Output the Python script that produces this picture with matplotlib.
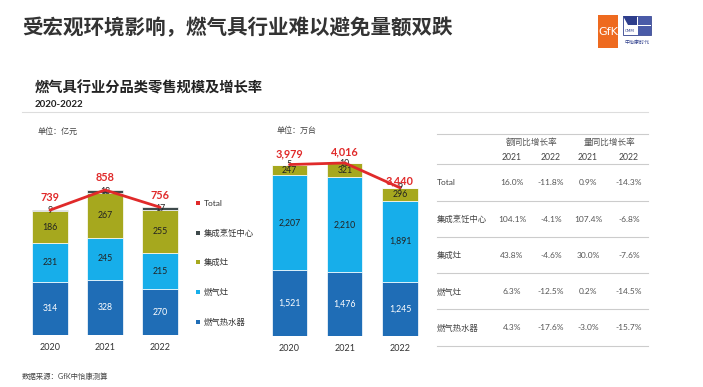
import matplotlib
matplotlib.use("Agg")
import matplotlib.pyplot as plt
from matplotlib.patches import Rectangle, Polygon

plt.rcParams['font.family'] = ['Lato', 'Noto Sans CJK SC', 'DejaVu Sans']

# ---------------- data ----------------
years = ['2020', '2021', '2022']
series_names = ['燃气热水器', '燃气灶', '集成灶', '集成烹饪中心']
legend_names = ['Total', '集成烹饪中心', '集成灶', '燃气灶', '燃气热水器']

value_heater = [314, 328, 270]      # 亿元
value_stove = [231, 245, 215]
value_integrated = [186, 267, 255]
value_center = [9, 18, 17]
value_total = [739, 858, 756]

volume_heater = [1521, 1476, 1245]  # 万台
volume_stove = [2207, 2210, 1891]
volume_integrated = [247, 321, 296]
volume_center = [5, 10, 9]
volume_total = [3979, 4016, 3440]

table_rows = ['Total', '集成烹饪中心', '集成灶', '燃气灶', '燃气热水器']
table_groups = ['额同比增长率', '量同比增长率']
table_years = ['2021', '2022', '2021', '2022']
value_growth_2021 = ['16.0%', '104.1%', '43.8%', '6.3%', '4.3%']
value_growth_2022 = ['-11.8%', '-4.1%', '-4.6%', '-12.5%', '-17.6%']
volume_growth_2021 = ['0.9%', '107.4%', '30.0%', '0.2%', '-3.0%']
volume_growth_2022 = ['-14.3%', '-6.8%', '-7.6%', '-14.5%', '-15.7%']

# ---------------- style ----------------
W, H = 703, 387
colors = ['#1F6DB6', '#17AEEA', '#A6A81E', '#3E4A4B']
label_colors = ['white', '#222222', '#222222', '#222222']
red = '#E02A2A'
gray_text = '#555555'

fig = plt.figure(figsize=(W / 100, H / 100), dpi=100)
fig.patch.set_facecolor('white')


def fx(x):
    return x / W


def fy(y):
    return 1 - y / H


def ftext(x, y, s, **kw):
    kw.setdefault('va', 'center')
    fig.text(fx(x), fy(y), s, **kw)


# title
ftext(22, 28, '受宏观环境影响，燃气具行业难以避免量额双跌', fontsize=14.8,
      fontweight='bold', color='#333333', family=['Noto Sans CJK SC', 'DejaVu Sans'])
ftext(35, 88, '燃气具行业分品类零售规模及增长率', fontsize=10.3, fontweight='bold',
      color='#222222', family=['Noto Sans CJK SC', 'DejaVu Sans'])
ftext(35, 104.5, '2020-2022', fontsize=7, fontweight='bold', color='#222222')
fig.add_artist(plt.Line2D([fx(22), fx(648)], [fy(112), fy(112)], color='#DDDDDD', lw=0.8))

ftext(38, 131, '单位：亿元', fontsize=5.8, color='#444444')
ftext(277, 130, '单位：万台', fontsize=5.8, color='#444444')
ftext(22, 376, '数据来源：GfK中怡康测算', fontsize=5.3, color='#444444')

# logos
fig.add_artist(Rectangle((fx(598), fy(48)), fx(20), 33 / H, color='#EE6A1F', lw=0))
ftext(608, 32, 'GfK', fontsize=8, color='white', ha='center', family=['DejaVu Sans'])
fig.add_artist(Rectangle((fx(623), fy(35)), fx(28), 19 / H, facecolor='white',
                         edgecolor='#2E3E8C', lw=0.6))
fig.add_artist(Rectangle((fx(637.5), fy(25)), fx(13.5), 9 / H, color='#4A5BA8', lw=0))
fig.add_artist(Rectangle((fx(637.5), fy(35)), fx(13.5), 9 / H, color='#4A5BA8', lw=0))
fig.add_artist(Polygon([(fx(623), fy(16)), (fx(637), fy(16)), (fx(637), fy(25)),
                        (fx(628), fy(25))], closed=True, color='#2E3E8C', lw=0))
ftext(630, 30.5, 'CMM', fontsize=3, color='#2E3E8C', ha='center', family=['DejaVu Sans'])
ftext(637, 42, '中怡康时代', fontsize=3.6, color='#2E3E8C', ha='center',
      family=['Noto Sans CJK SC'])


def stacked(ax, layers, total, fmt, label_offsets):
    x = list(range(len(years)))
    bottoms = [0] * len(years)
    for k, vals in enumerate(layers):
        ax.bar(x, vals, bottom=bottoms, width=0.64, color=colors[k],
               edgecolor='white', linewidth=0.5)
        for i, v in enumerate(vals):
            ax.text(x[i], bottoms[i] + v / 2, fmt(v), ha='center', va='center',
                    fontsize=6.3, color=label_colors[k])
        bottoms = [b + v for b, v in zip(bottoms, vals)]
    ax.plot(x, total, color=red, lw=2.0, solid_capstyle='round', zorder=5)
    for i, t in enumerate(total):
        ax.annotate(fmt(t), (x[i], t), xytext=(0, label_offsets[i]),
                    textcoords='offset points', ha='center', va='center',
                    fontsize=7.8, color=red, fontweight='bold', zorder=6)
    ax.set_xlim(-0.6, 2.6)
    ax.set_xticks(x)
    ax.set_xticklabels(years, fontsize=6.5, color='#333333')
    ax.tick_params(axis='x', length=0, pad=5.5)
    ax.set_yticks([])
    for s in ax.spines.values():
        s.set_visible(False)
    ax.patch.set_alpha(0)


# left chart (value)
axL = fig.add_axes([fx(17), fy(335), fx(176), 169 / H])
axL.set_ylim(0, 1000)
stacked(axL, [value_heater, value_stove, value_integrated, value_center], value_total,
        lambda v: f'{v:,}', [8.8, 9.3, 8.8])

# right chart (volume)
axR = fig.add_axes([fx(256.35), fy(336), fx(176.8), 193.9 / H])
axR.set_ylim(0, 4500)
stacked(axR, [volume_heater, volume_stove, volume_integrated, volume_center], volume_total,
        lambda v: f'{v:,}', [8.0, 8.0, 5.0])

# legend
leg_colors = [red] + colors[::-1]
leg_y = [203, 233, 262, 292, 322]
for name, c, y in zip(legend_names, leg_colors, leg_y):
    fig.add_artist(Rectangle((fx(196), fy(y + 2)), fx(4), 4 / H, color=c, lw=0))
    ftext(204, y, name, fontsize=6, color='#333333')

# table
line_ys = [134, 164, 201, 237, 273, 309, 346]
for y in line_ys:
    fig.add_artist(plt.Line2D([fx(437), fx(648)], [fy(y), fy(y)], color='#CCCCCC', lw=0.8))
col_x = [512, 551, 588, 629]
ftext(532, 142, table_groups[0], fontsize=6.2, color=gray_text, ha='center')
ftext(610, 142, table_groups[1], fontsize=6.2, color=gray_text, ha='center')
for cx, yr in zip(col_x, table_years):
    ftext(cx, 157.5, yr, fontsize=6.2, color='#444444', ha='center')
row_y = [183, 219, 255, 292, 328]
cols = [value_growth_2021, value_growth_2022, volume_growth_2021, volume_growth_2022]
for r, (name, y) in enumerate(zip(table_rows, row_y)):
    ftext(437, y, name, fontsize=6, color='#444444')
    for cx, col in zip(col_x, cols):
        ftext(cx, y, col[r], fontsize=6, color=gray_text, ha='center')

fig.savefig('out.png', dpi=100, facecolor='white')
